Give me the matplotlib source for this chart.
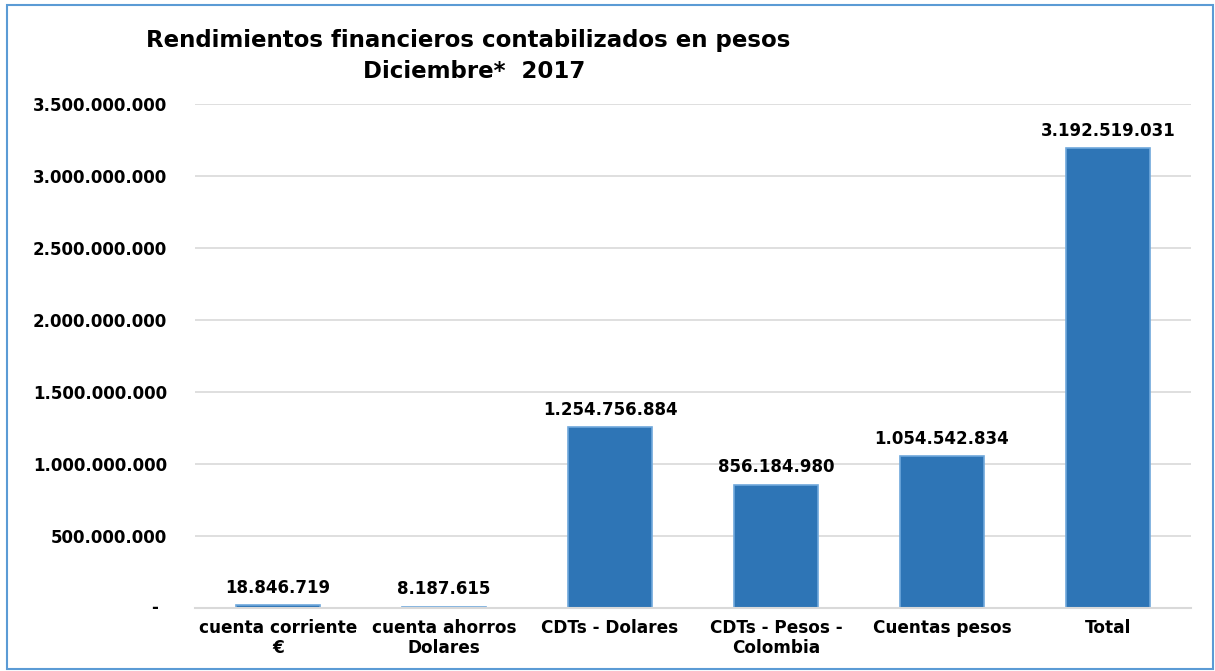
import matplotlib.pyplot as plt
from matplotlib.patches import Rectangle

categorias = ["cuenta corriente\n€", "cuenta ahorros\nDolares", "CDTs - Dolares",
              "CDTs - Pesos -\nColombia", "Cuentas pesos", "Total"]
valores = [18846719, 8187615, 1254756884, 856184980, 1054542834, 3192519031]
etiquetas = ["18.846.719", "8.187.615", "1.254.756.884", "856.184.980",
             "1.054.542.834", "3.192.519.031"]
ticks_y = [0, 500000000, 1000000000, 1500000000, 2000000000,
           2500000000, 3000000000, 3500000000]


def fmt_miles(v):
    if v == 0:
        return ""
    return f"{v:,.0f}".replace(",", ".")


plt.rcParams['font.family'] = ['DejaVu Sans']
plt.rcParams['font.weight'] = 'bold'

fig = plt.figure(figsize=(12.15, 6.71), dpi=100)
ax = fig.add_axes([0.1605, 0.0939, 0.8198, 0.751])

x = range(len(categorias))
ax.bar(x, valores, width=0.51, color='#2E75B6', edgecolor='#6FA8DC', linewidth=1.2)

for i, v in enumerate(valores):
    ax.annotate(etiquetas[i], xy=(i, v), xytext=(0, 6), textcoords='offset points',
                ha='center', va='bottom', fontsize=12, fontweight='bold')

ax.set_ylim(0, 3500000000)
ax.set_xlim(-0.5, len(categorias) - 0.5)
ax.set_yticks(ticks_y)
ax.set_yticklabels([fmt_miles(t) for t in ticks_y], fontsize=12, fontweight='bold')
ax.set_xticks(list(x))
ax.set_xticklabels(categorias, fontsize=12.2, fontweight='bold', linespacing=1.1)
ax.tick_params(axis='both', length=0)
ax.tick_params(axis='y', pad=20)
ax.tick_params(axis='x', pad=8)

# el cero se muestra como "-" un poco a la derecha, estilo contable
ax.annotate("-", xy=(0, 0), xycoords=('axes fraction', 'data'), xytext=(-29, 0),
            textcoords='offset points', ha='center', va='center',
            fontsize=12, fontweight='bold')

ax.grid(axis='y', color='#D9D9D9', linewidth=1.2)
ax.set_axisbelow(True)
for s in ['top', 'right', 'left']:
    ax.spines[s].set_visible(False)
ax.spines['bottom'].set_color('#D9D9D9')
ax.spines['bottom'].set_linewidth(1.5)

fig.text(0.385, 0.94, "Rendimientos financieros contabilizados en pesos",
         ha='center', va='center', fontsize=16.5, fontweight='bold')
fig.text(0.39, 0.893, "Diciembre*  2017",
         ha='center', va='center', fontsize=16.5, fontweight='bold')

fig.patches.append(Rectangle((0.006, 0.003), 0.992, 0.99, transform=fig.transFigure,
                             fill=False, edgecolor='#5B9BD5', linewidth=1.5))

fig.savefig("out.png", dpi=100)
